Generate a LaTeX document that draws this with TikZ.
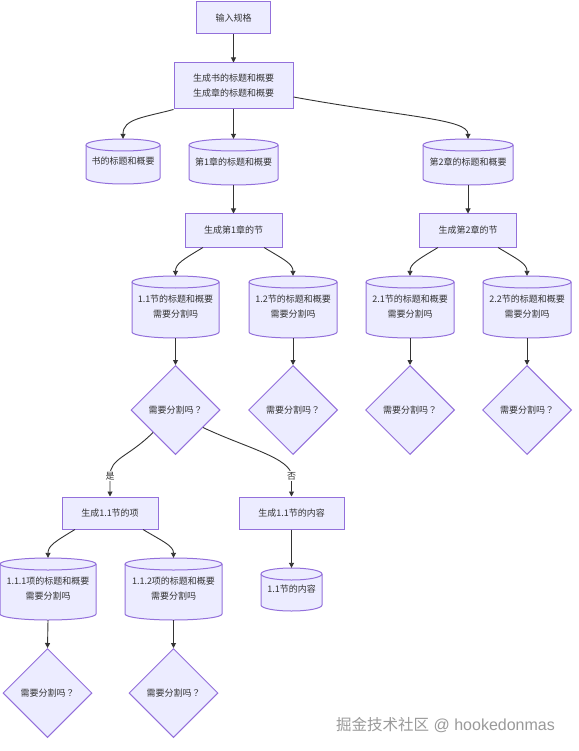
\documentclass[tikz,border=0pt]{standalone}
\usepackage{fontspec}
\setmainfont{Noto Sans CJK SC}
\newfontfamily\tcfont{Noto Sans CJK TC}
\newfontfamily\wmlatin{Liberation Sans}
\usetikzlibrary{shapes.geometric,arrows.meta}
\definecolor{mmfill}{HTML}{ECECFF}
\definecolor{mmline}{HTML}{9370DB}
\definecolor{mmedge}{HTML}{333333}
\definecolor{mmtext}{HTML}{333333}
\definecolor{wmark}{HTML}{9A9A9A}
\def\cyry{6}
\newcommand\askq{需要分割吗{\tcfont ？}}
\newcommand\cylnode[6]{%
  \pgfmathsetmacro\cyL{#2-#4/2}%
  \pgfmathsetmacro\cyR{#2+#4/2}%
  \pgfmathsetmacro\cyT{#3+\cyry}%
  \pgfmathsetmacro\cyB{#3+#5-\cyry}%
  \pgfmathsetmacro\cyRx{#4/2}%
  \pgfmathsetmacro\cyC{#3+#5/2}%
  \filldraw[cylbody] (\cyL,\cyT) -- (\cyL,\cyB) arc[start angle=180,end angle=360,x radius=\cyRx pt,y radius=\cyry pt] -- (\cyR,\cyT) arc[start angle=0,end angle=180,x radius=\cyRx pt,y radius=\cyry pt] -- cycle;
  \draw[cylbody] (\cyL,\cyT) arc[start angle=180,end angle=360,x radius=\cyRx pt,y radius=\cyry pt];
  \node[cyltext, minimum width=#4pt, minimum height=#5pt] (#1) at (#2,\cyC) {#6};
}
\tikzset{
  txt/.style={font=\fontsize{9}{15}\selectfont, text=mmtext},
  proc/.style={txt, rectangle, draw=mmline, fill=mmfill, line width=1pt, inner sep=0pt, align=center},
  cylbody/.style={draw=mmline, fill=mmfill, line width=1pt},
  cyltext/.style={txt, rectangle, inner sep=0pt, align=center},
  dec/.style={txt, diamond, draw=mmline, fill=mmfill, line width=1pt, inner sep=0pt, minimum width=89pt, minimum height=89pt},
  edge/.style={draw=mmedge, line width=0.9pt, -{Triangle[length=5pt,width=5pt]}},
  lbl/.style={txt, fill=white, inner sep=1pt},
  wm/.style={font=\fontsize{15.5}{17}\selectfont, text=wmark}
}
\begin{document}
\begin{tikzpicture}[x=1pt,y=-1pt]
\useasboundingbox (0,0) rectangle (578,751);
\fill[white] (0,0) rectangle (578,751);
% row 1
\node[proc, minimum width=74pt, minimum height=32pt] (n1) at (233.5,18) {输入规格};
\node[proc, minimum width=119pt, minimum height=46pt] (n2) at (233.5,86) {生成书的标题和概要\\生成章的标题和概要};
% chapter cylinders
\cylnode{b0}{123}{139}{74}{45}{书的标题和概要}
\cylnode{ch1}{233.5}{139}{89}{46}{第1章的标题和概要}
\cylnode{ch2}{468}{139}{90}{46}{第2章的标题和概要}
% section generators
\node[proc, minimum width=97pt, minimum height=33pt] (p1) at (233.5,230.5) {生成第1章的节};
\node[proc, minimum width=97pt, minimum height=33pt] (p2) at (468,230.5) {生成第2章的节};
% section cylinders
\cylnode{s11}{175.5}{276}{87}{62}{1.1节的标题和概要\\需要分割吗}
\cylnode{s12}{293}{276}{88}{62}{1.2节的标题和概要\\需要分割吗}
\cylnode{s21}{410}{276}{88}{62}{2.1节的标题和概要\\需要分割吗}
\cylnode{s22}{527}{276}{88}{62}{2.2节的标题和概要\\需要分割吗}
% decisions
\node[dec] (d11) at (175.5,410) {\askq};
\node[dec] (d12) at (293,410) {\askq};
\node[dec] (d21) at (410,410) {\askq};
\node[dec] (d22) at (527,410) {\askq};
% yes / no branch
\node[proc, minimum width=96pt, minimum height=32pt] (q1) at (110,513) {生成1.1节的项};
\node[proc, minimum width=105pt, minimum height=32pt] (q2) at (291.5,513) {生成1.1节的内容};
\cylnode{t111}{48}{558}{96}{62}{1.1.1项的标题和概要\\需要分割吗}
\cylnode{t112}{173.5}{558}{97}{62}{1.1.2项的标题和概要\\需要分割吗}
\cylnode{t11c}{291.5}{568}{61}{43}{1.1节的内容}
\node[dec] (e111) at (47.5,693) {\askq};
\node[dec] (e112) at (173.5,693) {\askq};
% connectors
\draw[edge] (n1.south) -- (n2.north);
\draw[edge] (n2.south west) .. controls +(-30,8) and +(0,-20) .. (b0.north);
\draw[edge] (n2.south) -- (ch1.north);
\draw[edge] ([yshift=-11pt]n2.east) .. controls +(110,20) and +(0,-20) .. (ch2.north);
\draw[edge] (ch1.south) -- (p1.north);
\draw[edge] (ch2.south) -- (p2.north);
\draw[edge] ([xshift=-30.5pt]p1.south) .. controls +(-20,12) and +(0,-12) .. (s11.north);
\draw[edge] ([xshift=30.5pt]p1.south) .. controls +(20,12) and +(0,-12) .. (s12.north);
\draw[edge] ([xshift=-30pt]p2.south) .. controls +(-20,12) and +(0,-12) .. (s21.north);
\draw[edge] ([xshift=30pt]p2.south) .. controls +(20,12) and +(0,-12) .. (s22.north);
\draw[edge] (s11.south) -- (d11.north);
\draw[edge] (s12.south) -- (d12.north);
\draw[edge] (s21.south) -- (d21.north);
\draw[edge] (s22.south) -- (d22.north);
\coordinate (lyc) at (110,476);
\coordinate (lnc) at (291.5,476);
\draw[edge] (d11.south west) .. controls +(-25,25) and +(0,-18) .. (lyc) node[lbl] (ly) {是} -- (q1.north);
\draw[edge] ([shift={(5,-5)}]d11.south east) .. controls +(42,20) and +(0,-18) .. (lnc) node[lbl] (ln) {否} -- (q2.north);
\draw[edge] ([xshift=-35pt]q1.south) .. controls +(-20,12) and +(0,-12) .. (t111.north);
\draw[edge] ([xshift=33pt]q1.south) .. controls +(20,12) and +(0,-12) .. (t112.north);
\draw[edge] (q2.south) -- (t11c.north);
\draw[edge] (t111.south) -- (e111.north);
\draw[edge] (t112.south) -- (e112.north);
% watermark
\node[wm, anchor=west, inner sep=0pt] (wm) at (336,725) {掘金技术社区{\wmlatin\fontsize{16}{17}\selectfont{} @ hookedonmas}};
\end{tikzpicture}
\end{document}
